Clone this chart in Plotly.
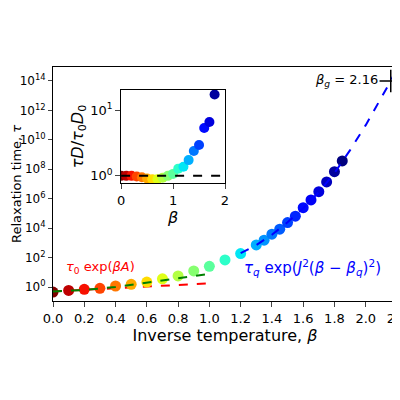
import plotly.graph_objects as go
import numpy as np

beta = [0,0.1,0.2,0.3,0.4,0.5,0.6,0.7,0.8,0.9,1.0,1.1,1.2,1.3,1.35,1.4,1.45,1.5,1.55,1.6,1.65,1.7,1.75,1.8,1.85]
log_tau = [-0.34,-0.23,-0.16,-0.09,0.07,0.18,0.34,0.56,0.75,1.09,1.41,1.84,2.27,2.86,3.18,3.59,3.93,4.38,4.81,5.39,5.92,6.48,7.14,7.84,8.57]
tau = [10**v for v in log_tau]

red_b = [0,0.5,1.0]; red_log = [-0.3,-0.02,0.25]
green_b = [0,0.2,0.4,0.5,0.6,0.8,1.0]; green_log = [-0.3,-0.2,0.0,0.15,0.28,0.55,0.9]
blue_b = [1.2,1.3,1.4,1.5,1.6,1.7,1.8,1.85,1.9,2.0,2.1,2.16,2.2]
blue_log = [2.3,2.85,3.55,4.4,5.35,6.45,7.75,8.55,9.3,11.0,12.85,14.0,14.9]

in_beta = [0,0.1,0.2,0.3,0.4,0.5,0.6,0.7,0.8,0.9,1.0,1.1,1.2,1.3,1.4,1.5,1.6,1.7,1.8]
in_log = [0,0,0,-0.01,-0.02,-0.04,-0.05,-0.05,-0.03,0.0,0.03,0.11,0.14,0.24,0.38,0.47,0.73,0.82,1.24]

# matplotlib jet, reversed
R = [(0,0),(0.35,0),(0.66,1),(0.89,1),(1,0.5)]
G = [(0,0),(0.125,0),(0.375,1),(0.64,1),(0.91,0),(1,0)]
B = [(0,0.5),(0.11,1),(0.34,1),(0.65,0),(1,0)]
def ch(pts, t):
    return float(np.interp(t, [p[0] for p in pts], [p[1] for p in pts]))
cs = []
for i in range(41):
    t = i / 40
    u = 1 - t
    cs.append([t, "rgb(%d,%d,%d)" % (255*ch(R,u), 255*ch(G,u), 255*ch(B,u))])

fig = go.Figure()
fig.add_trace(go.Scatter(x=red_b, y=[10**v for v in red_log], mode="lines", line=dict(color="red", dash="dash", width=2)))
fig.add_trace(go.Scatter(x=beta, y=tau, mode="markers", marker=dict(size=11, color=beta, colorscale=cs, cmin=0, cmax=1.85)))
fig.add_trace(go.Scatter(x=green_b, y=[10**v for v in green_log], mode="lines", line=dict(color="green", dash="dash", width=2)))
fig.add_trace(go.Scatter(x=blue_b, y=[10**v for v in blue_log], mode="lines", line=dict(color="blue", dash="dash", width=2)))
fig.add_trace(go.Scatter(x=[2.16], y=[1e14], mode="markers", cliponaxis=False,
                         marker=dict(symbol="cross-thin", size=16, line=dict(color="black", width=1.5))))

fig.add_trace(go.Scatter(x=in_beta, y=[10**v for v in in_log], mode="markers", xaxis="x2", yaxis="y2",
                         marker=dict(size=10, color=in_beta, colorscale=cs, cmin=0, cmax=1.85)))
fig.add_trace(go.Scatter(x=[0,2], y=[1,1], mode="lines", xaxis="x2", yaxis="y2", line=dict(color="black", dash="dash", width=2)))

font = dict(family="DejaVu Sans", size=13, color="black")
fig.update_layout(
    width=400, height=400, showlegend=False, plot_bgcolor="white", paper_bgcolor="white",
    margin=dict(l=45, r=11, t=59, b=107), font=font,
    xaxis=dict(range=[0,2.2], tickvals=[0,0.2,0.4,0.6,0.8,1.0,1.2,1.4,1.6,1.8,2.0,2.2],
               ticktext=["0.0","0.2","0.4","0.6","0.8","1.0","1.2","1.4","1.6","1.8","2.0","2.2"],
               showline=True, mirror=True, linecolor="black", ticks="outside", showgrid=False, zeroline=False,
               automargin=False, title=dict(text="Inverse temperature, <i>β</i>", standoff=4)),
    yaxis=dict(type="log", range=[-0.95,14.95], tickvals=[10**k for k in range(0,15,2)],
               ticktext=["10<sup>%d</sup>" % k for k in range(0,15,2)], tickfont=dict(size=12),
               showline=True, mirror=True, linecolor="black", ticks="outside", ticklen=4, showgrid=False, zeroline=False,
               automargin=False),
    xaxis2=dict(domain=[0.198,0.5], anchor="y2", range=[0,2], tickvals=[0,1,2], showline=True, mirror=True,
                linecolor="black", ticks="outside", showgrid=False, zeroline=False, automargin=False,
                title=dict(text="<i>β</i>", standoff=2)),
    yaxis2=dict(domain=[0.504,0.902], anchor="x2", type="log", range=[-0.11,1.31], tickvals=[1,10],
                ticktext=["10<sup>0</sup>","10<sup>1</sup>"], showline=True, mirror=True, linecolor="black",
                ticks="outside", showgrid=False, zeroline=False, automargin=False,
                title=dict(text="<i>τD</i>/<i>τ</i><sub>0</sub><i>D</i><sub>0</sub>", standoff=2)),
)
fig.add_annotation(x=0, y=0.5, xref="paper", yref="paper", xshift=-37, textangle=-90, text="Relaxation time, <i>τ</i>",
                   showarrow=False, xanchor="center", yanchor="middle", font=dict(size=13))
fig.add_annotation(x=0.07, y=1.35, yref="y", xanchor="left", text="<i>τ</i><sub>0</sub> exp(<i>βA</i>)", showarrow=False, font=dict(color="red", size=13))
fig.add_annotation(x=1.21, y=1.35, yref="y", xanchor="left", text="<i>τ<sub>q</sub></i> exp(<i>J</i><sup>2</sup>(<i>β</i> − <i>β<sub>q</sub></i>)<sup>2</sup>)", showarrow=False, font=dict(color="blue", size=15))
fig.add_annotation(x=2.09, y=14, yref="y", xanchor="right", text="<i>β<sub>g</sub></i> = 2.16", showarrow=False, font=dict(color="black", size=13))
fig.write_html("out.html")
